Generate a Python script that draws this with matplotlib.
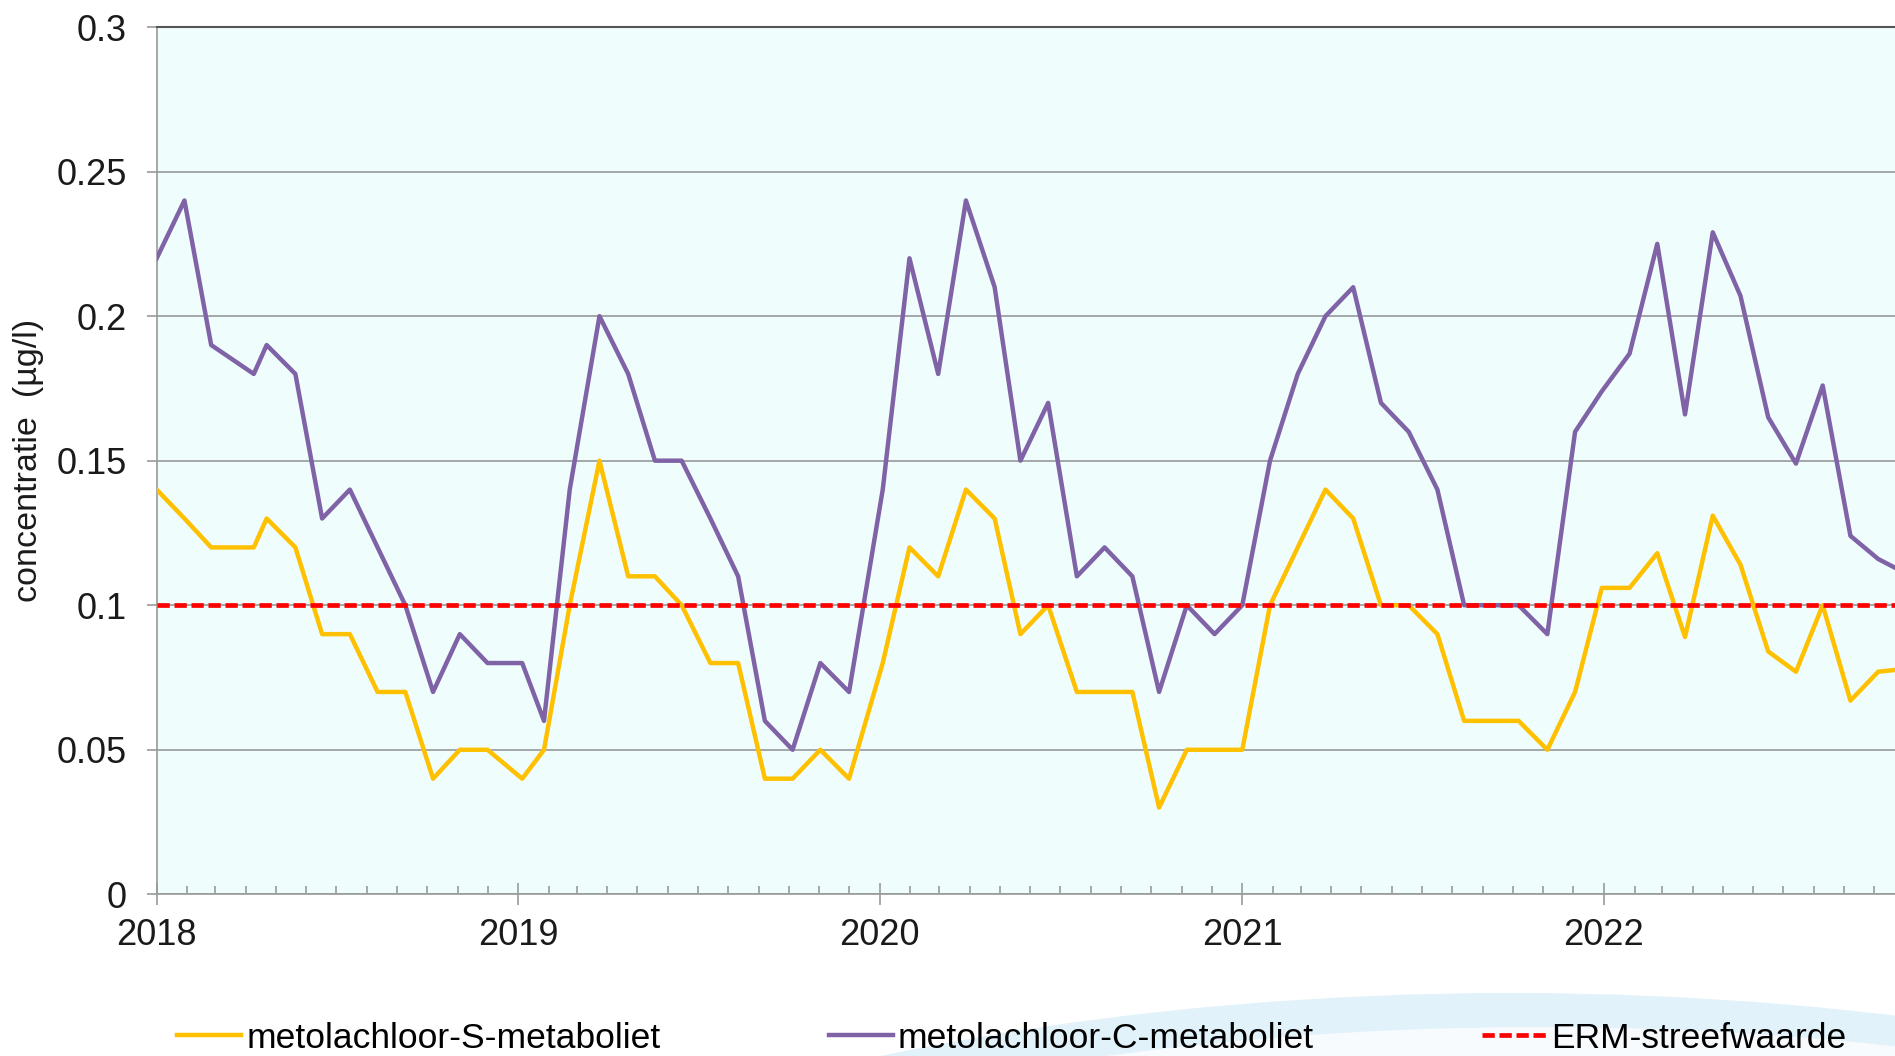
import matplotlib
matplotlib.use('Agg')
import matplotlib.pyplot as plt
import matplotlib.dates as mdates
from matplotlib.patches import Ellipse
import numpy as np
import pandas as pd

# sample dates (4-weekly) and concentrations in ug/l
sample_dates = [
    '2018-01-01', '2018-01-29', '2018-02-25', '2018-04-09', '2018-04-22', '2018-05-21',
    '2018-06-17', '2018-07-15', '2018-08-12', '2018-09-09', '2018-10-07', '2018-11-03',
    '2018-12-01', '2019-01-05', '2019-01-27', '2019-02-22', '2019-03-24', '2019-04-22',
    '2019-05-19', '2019-06-15', '2019-07-14', '2019-08-11', '2019-09-07', '2019-10-05',
    '2019-11-02', '2019-12-01', '2020-01-04', '2020-01-31', '2020-02-29', '2020-03-28',
    '2020-04-26', '2020-05-22', '2020-06-19', '2020-07-18', '2020-08-15', '2020-09-12',
    '2020-10-09', '2020-11-06', '2020-12-04', '2021-01-01', '2021-01-29', '2021-02-26',
    '2021-03-26', '2021-04-23', '2021-05-21', '2021-06-18', '2021-07-17', '2021-08-13',
    '2021-09-08', '2021-10-07', '2021-11-05', '2021-12-03', '2021-12-30', '2022-01-27',
    '2022-02-24', '2022-03-24', '2022-04-21', '2022-05-19', '2022-06-16', '2022-07-14',
    '2022-08-10', '2022-09-07', '2022-10-05', '2022-11-02',
]

s_metaboliet = [
    0.14, 0.13, 0.12, 0.12, 0.13, 0.12,
    0.09, 0.09, 0.07, 0.07, 0.04, 0.05,
    0.05, 0.04, 0.05, 0.10, 0.15, 0.11,
    0.11, 0.10, 0.08, 0.08, 0.04, 0.04,
    0.05, 0.04, 0.08, 0.12, 0.11, 0.14,
    0.13, 0.09, 0.10, 0.07, 0.07, 0.07,
    0.03, 0.05, 0.05, 0.05, 0.10, 0.12,
    0.14, 0.13, 0.10, 0.10, 0.09, 0.06,
    0.06, 0.06, 0.05, 0.07, 0.106, 0.106,
    0.118, 0.089, 0.131, 0.114, 0.084, 0.077,
    0.10, 0.067, 0.077, 0.078,
]

c_metaboliet = [
    0.22, 0.24, 0.19, 0.18, 0.19, 0.18,
    0.13, 0.14, 0.12, 0.10, 0.07, 0.09,
    0.08, 0.08, 0.06, 0.14, 0.20, 0.18,
    0.15, 0.15, 0.13, 0.11, 0.06, 0.05,
    0.08, 0.07, 0.14, 0.22, 0.18, 0.24,
    0.21, 0.15, 0.17, 0.11, 0.12, 0.11,
    0.07, 0.10, 0.09, 0.10, 0.15, 0.18,
    0.20, 0.21, 0.17, 0.16, 0.14, 0.10,
    0.10, 0.10, 0.09, 0.16, 0.174, 0.187,
    0.225, 0.166, 0.229, 0.207, 0.165, 0.149,
    0.176, 0.124, 0.116, 0.111,
]

erm_streefwaarde = 0.1

y_ticks = [0, 0.05, 0.1, 0.15, 0.2, 0.25, 0.3]
y_labels = ['0', '0.05', '0.1', '0.15', '0.2', '0.25', '0.3']

plt.rcParams['font.family'] = ['Liberation Sans', 'DejaVu Sans']

fig = plt.figure(figsize=(18.95, 10.56), dpi=100)

# faint swoosh of the logo behind the legend
bg = fig.add_axes([0, 0, 1, 1], zorder=-1)
bg.set_xlim(0, 1895)
bg.set_ylim(1056, 0)
bg.axis('off')
bg.add_patch(Ellipse((1511, 1581), 2800, 1176, color='#E1F2FA', lw=0))
bg.add_patch(Ellipse((1540, 1615), 2800, 1176, color='#F7FBFD', lw=0))

ax = fig.add_axes([0.0827, 0.1531, 0.9173, 0.8213])
ax.set_facecolor('#EFFDFD')

dates = pd.to_datetime(sample_dates)
ax.plot(dates, s_metaboliet, color='#FFC000', lw=3.2, label='metolachloor-S-metaboliet', zorder=3)
ax.plot(dates, c_metaboliet, color='#7F63A6', lw=3.2, label='metolachloor-C-metaboliet', zorder=3)
ax.axhline(erm_streefwaarde, color='#FF0000', lw=3.4, dashes=(2.6, 1.0),
           label='ERM-streefwaarde', zorder=4)

ax.set_xlim(pd.Timestamp('2018-01-01'), pd.Timestamp('2022-10-22'))
ax.set_ylim(0, 0.3)

ax.set_yticks(y_ticks)
ax.set_yticklabels(y_labels)
ax.yaxis.grid(True, color='#A3A7AA', lw=1.4)
ax.set_axisbelow(True)

ax.xaxis.set_major_locator(mdates.YearLocator())
ax.xaxis.set_major_formatter(mdates.DateFormatter('%Y'))
ax.xaxis.set_minor_locator(mdates.MonthLocator())

ax.tick_params(axis='y', direction='out', length=7.5, width=1.2, color='#9A9A9A',
               labelsize=26, pad=14, labelcolor='#1A1A1A')
ax.tick_params(axis='x', which='major', direction='inout', length=16, width=1.2,
               color='#9A9A9A', labelsize=26, pad=9, labelcolor='#1A1A1A')
ax.tick_params(axis='x', which='minor', direction='in', length=5.5, width=1.2, color='#9A9A9A')

for side in ['left', 'bottom']:
    ax.spines[side].set_color('#9A9A9A')
    ax.spines[side].set_linewidth(1.2)
ax.spines['top'].set_color('#555555')
ax.spines['top'].set_linewidth(1.5)
ax.spines['right'].set_visible(False)

ax.set_ylabel('concentratie  (µg/l)', fontsize=24.5, color='#1A1A1A')
ax.yaxis.set_label_coords(-0.065, 0.5)

handles, labels = ax.get_legend_handles_labels()
fig.legend(handles, labels, loc='center', bbox_to_anchor=(0.534, 0.017), ncol=3,
           frameon=False, fontsize=25.5, handlelength=1.8, handletextpad=0.15,
           columnspacing=4.75)

fig.savefig('out.png', dpi=100)
